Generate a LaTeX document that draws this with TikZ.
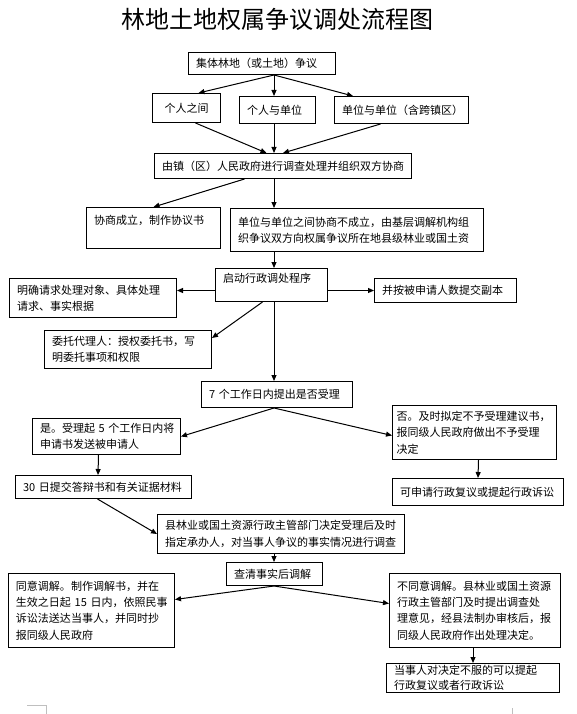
\documentclass[tikz,border=0pt]{standalone}
\usepackage{fontspec}
\newfontfamily\cjk{Noto Sans CJK SC}
\usetikzlibrary{arrows.meta, positioning}

\begin{document}
\begin{tikzpicture}[x=1pt, y=-1pt, line width=1pt,
    >={Triangle[length=6pt,width=5pt]},
    box/.style={draw, anchor=north west, inner xsep=7.5pt, inner ysep=0pt,
      align=left, font=\cjk\fontsize{11}{16.3}\selectfont},
    headline/.style={font=\cjk\fontsize{24}{24}\selectfont}]
  \useasboundingbox (0,0) rectangle (576,714);
  \coordinate (axis) at (274,0);
  \node[headline] (head) at (277,19) {林地土地权属争议调处流程图};

  \node[box, text width=132pt, minimum height=22pt] (dispute) at (188,52) {集体林地（或土地）争议};
  \node[box, text width=53pt, minimum height=29pt, align=center] (p1) at (152,93) {个人之间};
  \node[box, text width=61pt, minimum height=27pt] (p2) at (239,96) {个人与单位};
  \node[box, text width=119pt, minimum height=27pt] (p3) at (334,96) {单位与单位（含跨镇区）};
  \node[box, text width=242pt, minimum height=25pt] (gov) at (154,153) {由镇（区）人民政府进行调查处理并组织双方协商};
  \node[box, text width=119pt, minimum height=41pt, text height=17pt, text depth=24pt] (agree) at (86,207) {协商成立，制作协议书};
  \node[box, text width=238pt, minimum height=43pt] (fail) at (230,208)
    {单位与单位之间协商不成立，由基层调解机构组\\织争议双方向权属争议所在地县级林业或国土资};
  \node[box, text width=97pt, minimum height=33pt, text height=14pt, text depth=19pt] (start) at (215,268) {启动行政调处程序};
  \node[box, text width=152pt, minimum height=39pt] (clarify) at (9,278)
    {明确请求处理对象、具体处理\\请求、事实根据};
  \node[box, text width=127pt, minimum height=24pt] (copies) at (374,278) {并按被申请人数提交副本};
  \node[box, text width=152pt, minimum height=38pt] (agent) at (44,330)
    {委托代理人：授权委托书，写\\明委托事项和权限};
  \node[box, text width=136pt, minimum height=26pt] (accept) at (201,381) {7~个工作日内提出是否受理};
  \node[box, text width=133pt, minimum height=36pt] (yes) at (32,418)
    {是。受理起~5~个工作日内将\\申请书发送被申请人};
  \node[box, inner xsep=4pt, text width=156pt, minimum height=54pt] (no) at (392,405)
    {否。及时拟定不予受理建议书，\\报同级人民政府做出不予受理\\决定};
  \node[box, text width=161pt, minimum height=23pt] (reply) at (15,475) {30~日提交答辩书和有关证据材料};
  \node[box, text width=156pt, minimum height=27pt] (review) at (392,478) {可申请行政复议或提起行政诉讼};
  \node[box, text width=232pt, minimum height=39pt] (investigate) at (157,514)
    {县林业或国土资源行政主管部门决定受理后及时\\指定承办人，对当事人争议的事实情况进行调查};
  \node[box, text width=81pt, minimum height=23pt] (mediate) at (226,562) {查清事实后调解};
  \node[box, text width=151pt, minimum height=74pt] (agree2) at (8,573)
    {同意调解。制作调解书，并在\\生效之日起~15~日内，依照民事\\诉讼法送达当事人，并同时抄\\报同级人民政府};
  \node[box, text width=156pt, minimum height=74pt] (refuse) at (389,573)
    {不同意调解。县林业或国土资源\\行政主管部门及时提出调查处\\理意见，经县法制办审核后，报\\同级人民政府作出处理决定。};
  \node[box, text width=158pt, minimum height=29pt, font=\cjk\fontsize{11}{15}\selectfont] (appeal) at (386,663)
    {当事人对决定不服的可以提起\\行政复议或者行政诉讼};

  \path[->]
    (dispute.south -| axis) edge ([xshift=12pt]p1.north)
                            edge (p2.north -| axis)
                            edge ([xshift=19pt]p3.north west)
    ([xshift=9pt]p1.south)  edge ([xshift=-16.5pt]gov.north)
    (p2.south -| axis)      edge (gov.north -| axis)
    ([xshift=-21pt]p3.south) edge (gov.north)
    ([xshift=-38.5pt]gov.south) edge (agree.north)
    (gov.south -| axis)     edge (fail.north -| axis)
    (fail.south -| axis)    edge (start.north -| axis)
    (start.west |- copies.west) edge (clarify.east |- copies.west)
    (start.east |- copies.west) edge (copies.west)
    ([xshift=-9pt]start.south) edge ([yshift=-8pt]agent.north east)
    (start.south -| axis)   edge (accept.north -| axis)
    (accept.south -| axis)  edge (yes.east)
                            edge ([yshift=-3pt]no.west)
    ([xshift=-8pt]yes.south) edge ([xshift=83pt]reply.north west)
    ([xshift=4pt]no.south)  edge (review.north)
    ([xshift=-6pt]reply.south) edge (investigate.west)
    (investigate.south -| axis) edge (mediate.north -| axis)
    (mediate.south -| axis) edge ([yshift=11pt]agree2.east)
                            edge ([yshift=7pt]refuse.west)
    (appeal.north |- refuse.south) edge (appeal.north);

  \draw[gray!50, line width=.6pt] (27,705) -- (46,705) -- (46,714);
  \draw[gray!50, line width=.6pt] (512,708) -- (512,714);
\end{tikzpicture}
\end{document}
